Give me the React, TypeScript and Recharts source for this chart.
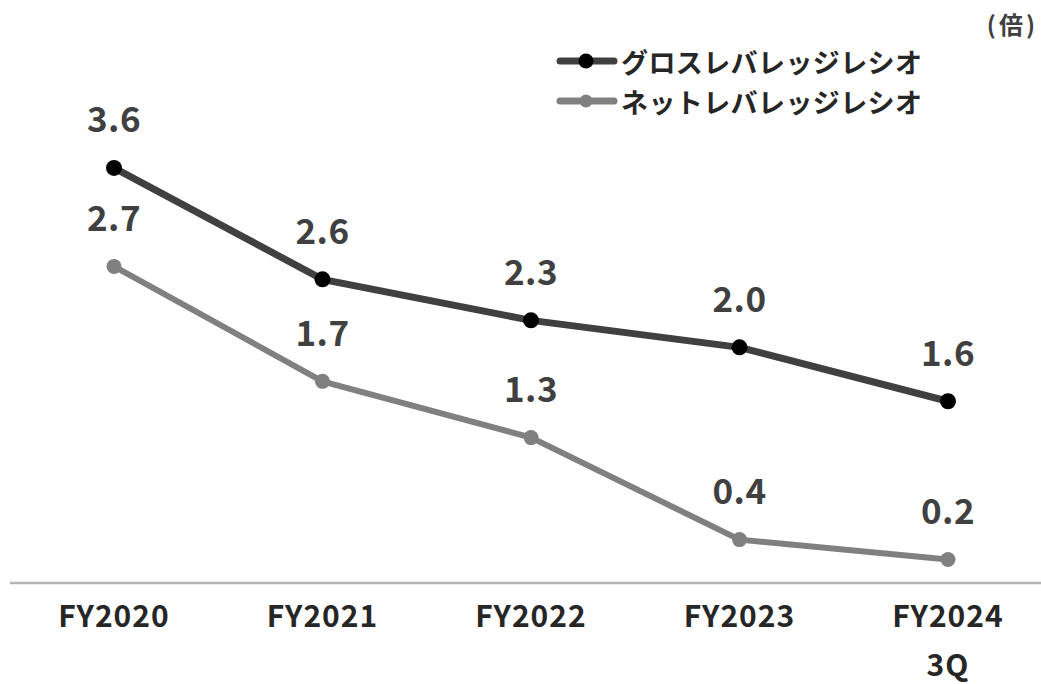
import React from "react";
import { LineChart, Line, XAxis, YAxis, LabelList } from "recharts";

// 年度（最終年は第3四半期）
const periods = ["FY2020", "FY2021", "FY2022", "FY2023", "FY2024\n3Q"];
// グロス／ネット レバレッジレシオ（倍）— 位置から読んだ値
const grossRatio = [3.54, 2.59, 2.24, 2.01, 1.55];
const netRatio = [2.7, 1.72, 1.24, 0.37, 0.2];
// 表示ラベル
const grossLabels = ["3.6", "2.6", "2.3", "2.0", "1.6"];
const netLabels = ["2.7", "1.7", "1.3", "0.4", "0.2"];

const FONT = '"Noto Sans CJK JP", "Noto Sans", sans-serif';
const GROSS = "#404040";
const NET = "#808080";

const rows = periods.map((p, i) => ({
  period: p,
  gross: grossRatio[i],
  net: netRatio[i],
  grossLabel: grossLabels[i],
  netLabel: netLabels[i],
}));

const PeriodTick = (props: any) => {
  const { x, y, payload } = props;
  const lines = String(payload.value).split("\n");
  return (
    <g>
      {lines.map((l, i) => (
        <text
          key={i}
          x={x}
          y={y + 23 + i * 49}
          textAnchor="middle"
          dominantBaseline="central"
          fontFamily={FONT}
          fontWeight={700}
          fontSize={30}
          letterSpacing={1}
          fill="#262626"
        >
          {l}
        </text>
      ))}
    </g>
  );
};

const valueLabel = (props: any) => {
  const { x, y, value } = props;
  return (
    <text
      x={x}
      y={y - 51}
      textAnchor="middle"
      dominantBaseline="central"
      fontFamily={FONT}
      fontWeight={700}
      fontSize={35}
      letterSpacing={0.5}
      fill="#404040"
    >
      {value}
    </text>
  );
};

const legendItems = [
  { name: "グロスレバレッジレシオ", line: GROSS, dot: "#000", r: 7.5 },
  { name: "ネットレバレッジレシオ", line: NET, dot: NET, r: 6.5 },
];

const LegendBox = () => (
  <div style={{ position: "absolute", top: 41, left: 556, fontFamily: FONT }}>
    {legendItems.map((it) => (
      <div key={it.name} style={{ display: "flex", alignItems: "center", height: 40 }}>
        <svg width={62} height={20}>
          <line x1={4} y1={10} x2={58} y2={10} stroke={it.line} strokeWidth={7} strokeLinecap="round" />
          <circle cx={30} cy={10} r={it.r} fill={it.dot} />
        </svg>
        <span style={{ fontSize: 27, fontWeight: 700, color: "#262626", marginLeft: 3, letterSpacing: 0.4 }}>
          {it.name}
        </span>
      </div>
    ))}
  </div>
);

export default function App() {
  return (
    <div style={{ position: "absolute", left: 0, top: 0, width: 1041, height: 684, overflow: "hidden", background: "#fff" }}>
      <LineChart width={1041} height={684} data={rows} margin={{ top: 114, right: 0, left: 10, bottom: 0 }}>
        <XAxis
          dataKey="period"
          height={101}
          padding={{ left: 104, right: 93 }}
          axisLine={{ stroke: "#b3b3b3", strokeWidth: 2.5 }}
          tickLine={false}
          tick={<PeriodTick />}
          interval={0}
        />
        <YAxis hide domain={[0, 4]} />
        <Line
          dataKey="gross"
          stroke={GROSS}
          strokeWidth={7}
          dot={{ r: 8, fill: "#000", stroke: "none" }}
          isAnimationActive={false}
        >
          <LabelList dataKey="grossLabel" content={valueLabel} />
        </Line>
        <Line
          dataKey="net"
          stroke={NET}
          strokeWidth={6}
          dot={{ r: 7.5, fill: NET, stroke: "none" }}
          isAnimationActive={false}
        >
          <LabelList dataKey="netLabel" content={valueLabel} />
        </Line>
      </LineChart>
      <LegendBox />
      <div
        style={{
          position: "absolute",
          right: 3,
          top: 6,
          fontFamily: FONT,
          fontWeight: 700,
          fontSize: 24,
          letterSpacing: 3,
          color: "#404040",
        }}
      >
        (倍)
      </div>
    </div>
  );
}
